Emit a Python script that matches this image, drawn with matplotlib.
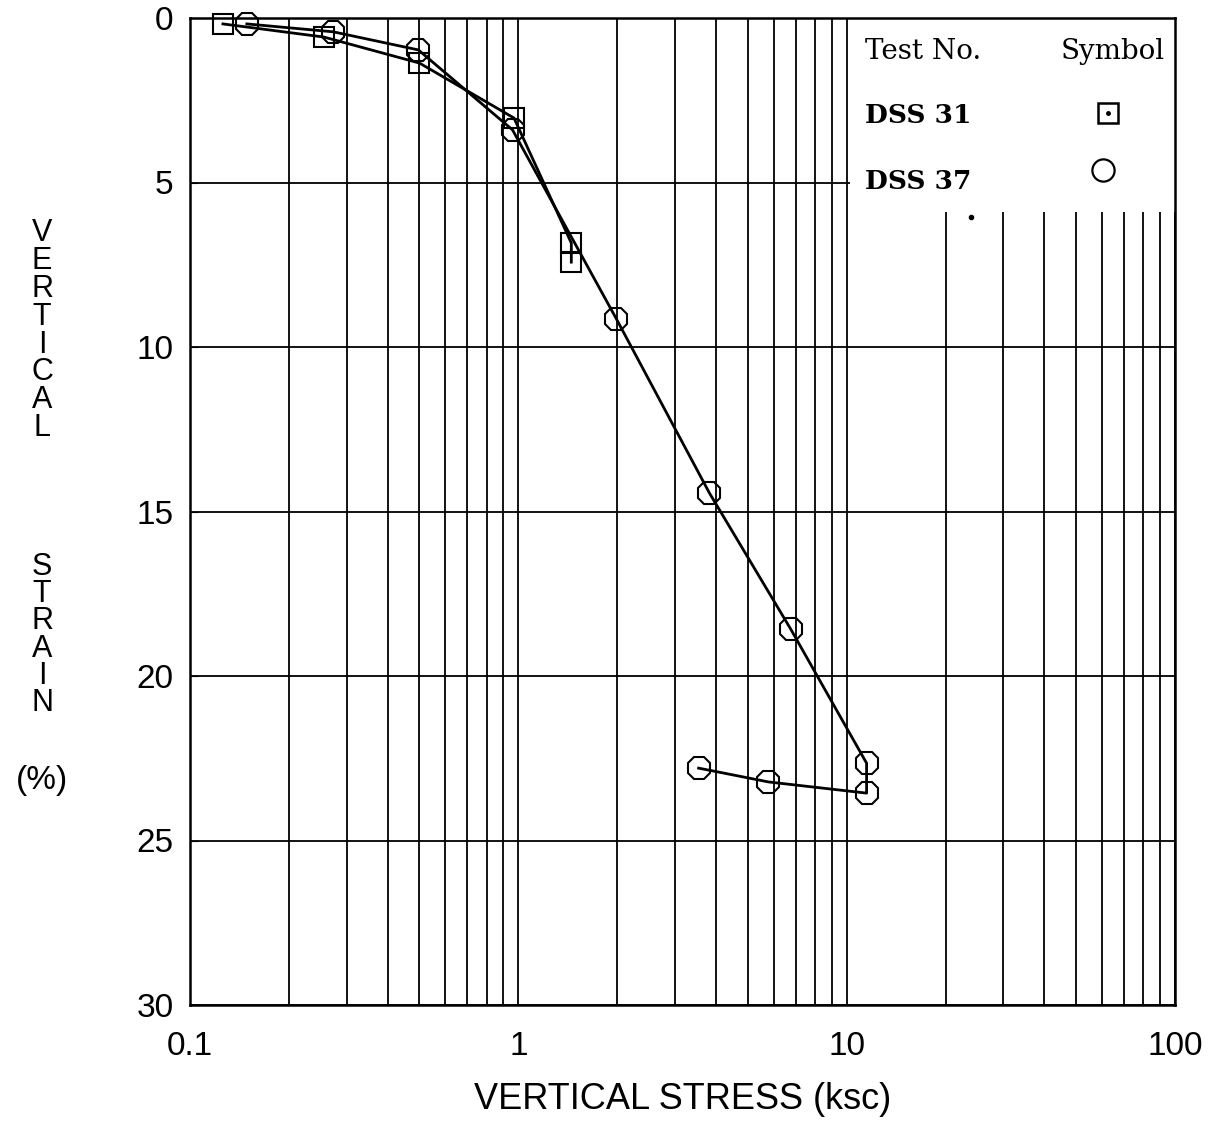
import numpy as np
import matplotlib
matplotlib.use('Agg')
from matplotlib import pyplot as plt
from matplotlib.patches import Rectangle

# DSS 31 (squares)
dss31_stress = [0.126, 0.256, 0.50, 0.97, 1.45, 1.45]
dss31_strain = [0.18, 0.58, 1.37, 3.04, 6.84, 7.42]

# DSS 37 (octagons), loading then unloading
dss37_stress = [0.149, 0.273, 0.496, 0.96, 1.99, 3.82, 6.75, 11.5, 11.5, 5.78, 3.54]
dss37_strain = [0.18, 0.42, 0.97, 3.40, 9.15, 14.44, 18.57, 22.65, 23.56, 23.22, 22.80]

x_ticks = [0.1, 1, 10, 100]
x_tick_labels = ['0.1', '1', '10', '100']
y_ticks = [0, 5, 10, 15, 20, 25, 30]

SANS = ['Liberation Sans', 'DejaVu Sans']
SERIF = ['DejaVu Serif', 'Liberation Serif']

fig = plt.figure(figsize=(12.17, 11.30), dpi=100)
ax = fig.add_axes([190/1217, 1 - 1005/1130, 985/1217, 987/1130])

ax.set_xscale('log')
ax.set_xlim(0.1, 100)
ax.set_ylim(30, 0)

# grid: every log minor line, strain every 5 %
ax.set_axisbelow(True)
ax.grid(True, which='both', axis='x', color='black', lw=1.3)
ax.grid(True, which='major', axis='y', color='black', lw=1.3)
ax.set_xticks(x_ticks)
ax.set_xticklabels(x_tick_labels, family=SANS, fontsize=24)
ax.set_yticks(y_ticks)
ax.set_yticklabels([str(v) for v in y_ticks], family=SANS, fontsize=24)
ax.tick_params(axis='x', which='both', length=0, pad=19)
ax.tick_params(axis='y', which='both', length=6, direction='in', pad=12)
for sp in ax.spines.values():
    sp.set_linewidth(1.8)

# key area blanks the grid in the top right corner
ax.add_patch(Rectangle((10.25, 0), 100 - 10.25, 5.9, facecolor='white',
                       edgecolor='none', zorder=1))

ax.plot(dss31_stress, dss31_strain, color='black', lw=2.0, marker='s',
        ms=14, mfc='none', mec='black', mew=1.5, zorder=3, clip_on=False)
ax.plot(dss37_stress, dss37_strain, color='black', lw=2.0, marker='8',
        ms=17, mfc='none', mec='black', mew=1.5, zorder=3, clip_on=False)

# key
ax.text(0.685, 0.9656, 'Test No.', transform=ax.transAxes, family=SERIF,
        fontsize=20, va='center', ha='left')
ax.text(0.990, 0.9656, 'Symbol', transform=ax.transAxes, family=SERIF,
        fontsize=20, va='center', ha='right')
ax.text(0.685, 0.9017, 'DSS 31', transform=ax.transAxes, family=SERIF,
        fontsize=19, fontweight='bold', va='center', ha='left')
ax.text(0.685, 0.834, 'DSS 37', transform=ax.transAxes, family=SERIF,
        fontsize=19, fontweight='bold', va='center', ha='left')
ax.plot([0.932], [0.9037], transform=ax.transAxes, marker='s', ms=15,
        mfc='none', mec='black', mew=1.8, zorder=4)
ax.plot([0.932], [0.9037], transform=ax.transAxes, marker='.', ms=5,
        color='black', zorder=4)
ax.plot([0.927], [0.846], transform=ax.transAxes, marker='o', ms=16,
        mfc='none', mec='black', mew=1.6, zorder=4)
ax.plot([0.793], [0.798], transform=ax.transAxes, marker='.', ms=6,
        color='black', zorder=4)

ax.set_xlabel('VERTICAL STRESS (ksc)', family=SANS, fontsize=26, labelpad=14)

# stacked vertical axis title
word1 = 'VERTICAL'
word2 = 'STRAIN'
for i, ch in enumerate(word1):
    fig.text(42/1217, 1 - (233 + 27.9*i)/1130, ch, family=SANS, fontsize=22,
             ha='center', va='center')
for i, ch in enumerate(word2):
    fig.text(42/1217, 1 - (567 + 27.2*i)/1130, ch, family=SANS, fontsize=22,
             ha='center', va='center')
fig.text(42/1217, 1 - 780/1130, '(%)', family=SANS, fontsize=24,
         ha='center', va='center')

fig.savefig('out.png', dpi=100)
